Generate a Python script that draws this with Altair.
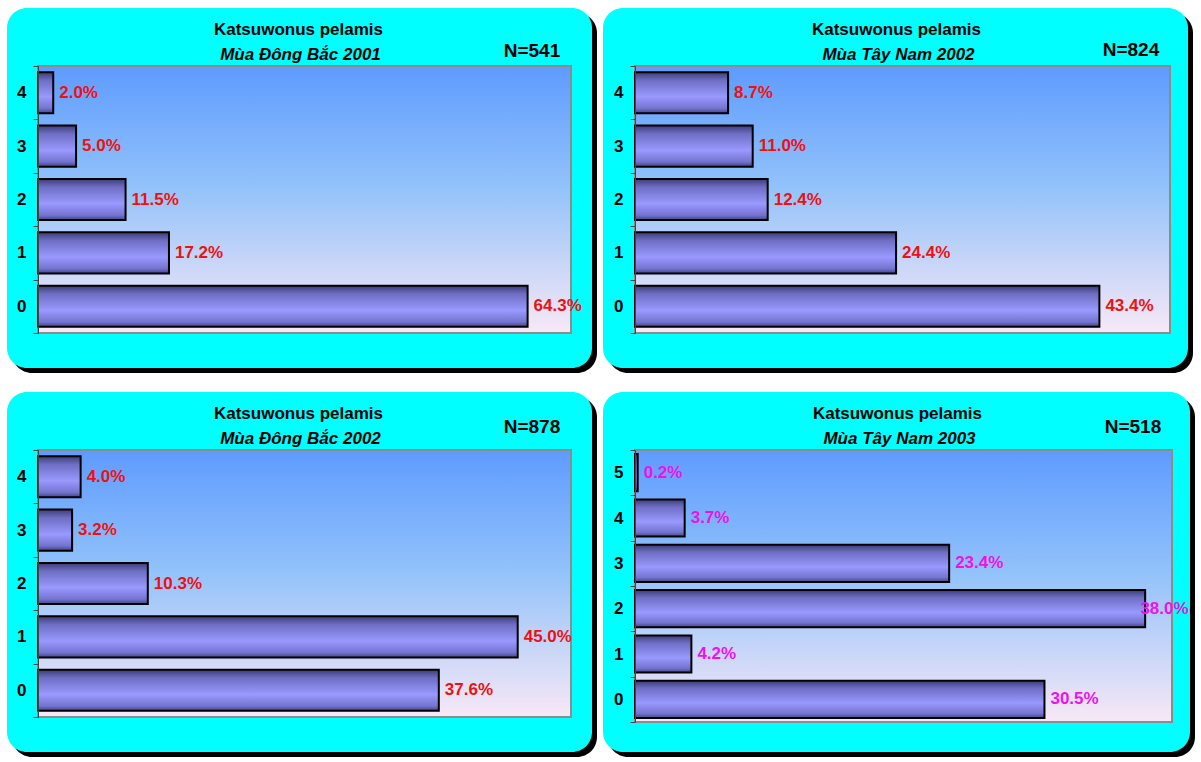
import altair as alt
import pandas as pd

# ---- data ----
cats_5 = ["0", "1", "2", "3", "4"]
cats_6 = ["0", "1", "2", "3", "4", "5"]
vals_1 = [64.3, 17.2, 11.5, 5.0, 2.0]
vals_2 = [43.4, 24.4, 12.4, 11.0, 8.7]
vals_3 = [37.6, 45.0, 10.3, 3.2, 4.0]
vals_4 = [30.5, 4.2, 38.0, 23.4, 3.7, 0.2]
species = "Katsuwonus pelamis"
subtitles = ["Mùa Đông Bắc 2001", "Mùa Tây Nam 2002", "Mùa Đông Bắc 2002", "Mùa Tây Nam 2003"]
n_labels = ["N=541", "N=824", "N=878", "N=518"]
x_max = [70, 50, 50, 40]
label_colors = ["#ee1111", "#ee1111", "#ee1111", "#ee11ee"]

FONT = "Liberation Sans"

bar_gradient = alt.LinearGradient(
    gradient="linear", x1=0, x2=0, y1=0, y2=1,
    stops=[
        alt.GradientStop(offset=0.0, color="#3c3c78"),
        alt.GradientStop(offset=0.2, color="#6e6ec4"),
        alt.GradientStop(offset=0.6, color="#9999ff"),
        alt.GradientStop(offset=0.88, color="#7474d0"),
        alt.GradientStop(offset=1.0, color="#434388"),
    ],
)
bg_gradient = alt.LinearGradient(
    gradient="linear", x1=0, x2=0, y1=0, y2=1,
    stops=[
        alt.GradientStop(offset=0.0, color="#5e9bff"),
        alt.GradientStop(offset=0.45, color="#92c2fa"),
        alt.GradientStop(offset=1.0, color="#f8e8f6"),
    ],
)


def panel(cats, vals, subtitle, n_label, xmax, color, w, h, band, box, n_dy):
    df = pd.DataFrame({"cat": cats, "val": vals,
                       "lab": [f"{v:.1f}%" for v in vals]})
    one = pd.DataFrame({"k": [0]})
    L, R, T, B = box

    shadow = alt.Chart(one).mark_rect(fill="black", cornerRadius=20).encode(
        x=alt.value(L + 5), x2=alt.value(w + R + 5),
        y=alt.value(T + 5), y2=alt.value(h + B + 5))
    card = alt.Chart(one).mark_rect(fill="#00ffff", cornerRadius=20).encode(
        x=alt.value(L), x2=alt.value(w + R),
        y=alt.value(T), y2=alt.value(h + B))
    plot_bg = alt.Chart(one).mark_rect(fill=bg_gradient, stroke="#8c8c8c", strokeWidth=2).encode(
        x=alt.value(0), x2=alt.value(w), y=alt.value(0), y2=alt.value(h))

    y_enc = alt.Y(
        "cat:N", sort=list(reversed(cats)),
        scale=alt.Scale(paddingInner=0, paddingOuter=0),
        axis=alt.Axis(title=None, labelFont=FONT, labelFontSize=17,
                      labelFontWeight="bold", labelColor="black",
                      labelPadding=7, tickSize=5, tickColor="#444",
                      domainColor="#444", domainWidth=1, tickBand="extent",
                      labelAngle=0, grid=False, zindex=1))
    x_scale = alt.Scale(domain=[0, xmax], nice=False, zero=True)
    x_enc = alt.X("val:Q", scale=x_scale, axis=None)

    bars = alt.Chart(df).mark_bar(
        fill=bar_gradient, stroke="black", strokeWidth=2,
        height=alt.RelativeBandSize(band=band)).encode(x=x_enc, y=y_enc)
    # labels are kept inside the chart box, as the spreadsheet did
    labels = alt.Chart(df).transform_calculate(
        lx=f"min(datum.val, {xmax} * 0.93)"
    ).mark_text(
        align="left", baseline="middle", dx=6, font=FONT, fontSize=17,
        fontWeight="bold", color=color).encode(
        x=alt.X("lx:Q", scale=x_scale, axis=None), y=y_enc, text="lab:N")

    t1 = alt.Chart(one).mark_text(
        text=species, font=FONT, fontSize=17, fontWeight="bold", color="black",
        align="center", baseline="middle").encode(x=alt.value(w / 2 - 6), y=alt.value(-36))
    t2 = alt.Chart(one).mark_text(
        text=subtitle, font=FONT, fontSize=17, fontWeight="bold", fontStyle="italic",
        color="black", align="center", baseline="middle").encode(
        x=alt.value(w / 2 - 4), y=alt.value(-11))
    tn = alt.Chart(one).mark_text(
        text=n_label, font=FONT, fontSize=19, fontWeight="bold", color="black",
        align="center", baseline="middle").encode(x=alt.value(w - 39), y=alt.value(n_dy))

    return alt.layer(shadow, card, plot_bg, bars, labels, t1, t2, tn).properties(
        width=w, height=h)


p1 = panel(cats_5, vals_1, subtitles[0], n_labels[0], x_max[0], label_colors[0],
           533, 267, 0.77, (-31, 21, -58, 35), -15)
p2 = panel(cats_5, vals_2, subtitles[1], n_labels[1], x_max[1], label_colors[1],
           535, 267, 0.77, (-32, 18, -58, 35), -16)
p3 = panel(cats_5, vals_3, subtitles[2], n_labels[2], x_max[2], label_colors[2],
           533, 267, 0.77, (-31, 21, -58, 35), -23)
p4 = panel(cats_6, vals_4, subtitles[3], n_labels[3], x_max[3], label_colors[3],
           537, 272, 0.82, (-32, 18, -58, 30), -23)

chart = alt.concat(p1, p2, p3, p4, columns=2, spacing=alt.RowColnumber(row=117, column=64)).properties(
    bounds="flush",
    padding={"left": 7, "top": 8, "right": 0, "bottom": 0},
    background="white",
).configure_view(stroke=None)

chart.save("out.html", embed_options={"renderer": "svg", "actions": False})
